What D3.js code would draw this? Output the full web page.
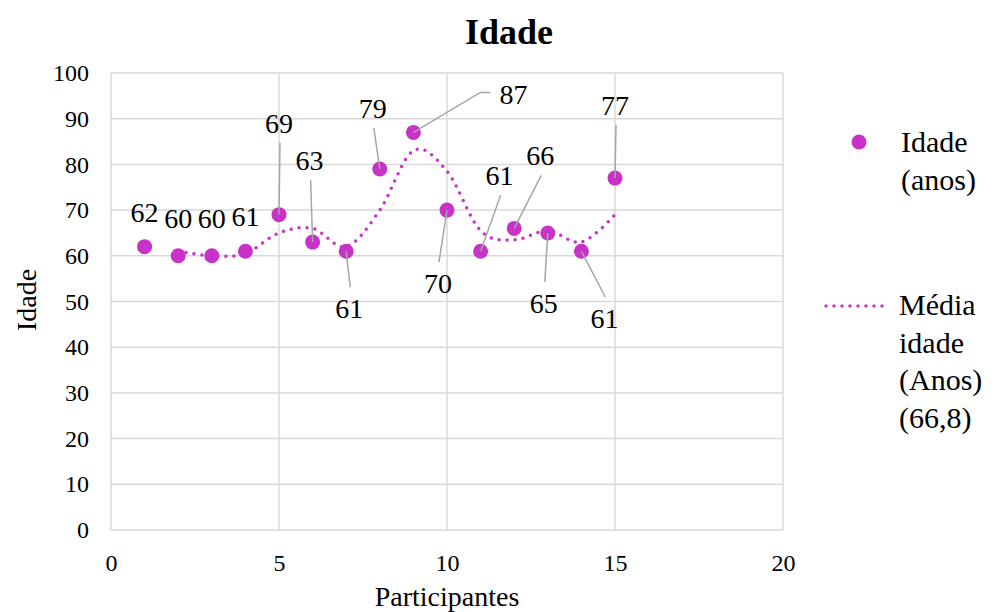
<!DOCTYPE html>
<html><head><meta charset="utf-8">
<script src="https://cdn.jsdelivr.net/npm/d3@7/dist/d3.min.js"></script>
<style>body{margin:0;background:#fff}svg{display:block;font-family:"Liberation Serif","Times New Roman",serif}</style>
</head><body><div id="chart"></div>
<script>
// Data
const participants = [1,2,3,4,5,6,7,8,9,10,11,12,13,14,15];
const ages = [62,60,60,61,69,63,61,79,87,70,61,66,65,61,77];
const trendX = [2,3,4,5,6,7,8,9,10,11,12,13,14,15];
const trendY = [61,60,60.5,65,66,62,70,83,78.5,65.5,63.5,65.5,63,69];
const xTicks = [0,5,10,15,20];
const yTicks = [0,10,20,30,40,50,60,70,80,90,100];
const seriesNames = [["Idade","(anos)"],["Média","idade","(Anos)","(66,8)"]];
// label placement offsets (pixels, relative to point): dx, dy(baseline), leader flag
const labelOffsets = [
  [0,-25,0],[0,-28,0],[0,-28,0],[0,-25,0],[0,-82,1],[-3,-72,1],[3,67,1],[-7,-51,1],
  [100,-28,2],[-9,83,1],[19,-66,1],[26,-63,1],[-4,80,1],[23,77,1],[0,-63,1]
];

const W=994,H=612;
const color="#c832c8";
const svg=d3.select("#chart").append("svg").attr("width",W).attr("height",H);
const x=d3.scaleLinear().domain([0,20]).range([111,783]);
const y=d3.scaleLinear().domain([0,100]).range([530,73]);

// grid
const g=svg.append("g");
g.selectAll(".hg").data(yTicks).join("line")
 .attr("x1",x(0)).attr("x2",x(20)).attr("y1",d=>y(d)).attr("y2",d=>y(d))
 .attr("stroke","#d9d9d9").attr("stroke-width",1.5);
g.selectAll(".vg").data(xTicks).join("line")
 .attr("y1",y(0)).attr("y2",y(100)).attr("x1",d=>x(d)).attr("x2",d=>x(d))
 .attr("stroke","#d9d9d9").attr("stroke-width",1.5);

// axes (labels only)
const xa=svg.append("g").attr("transform",`translate(0,${y(0)})`)
 .call(d3.axisBottom(x).tickValues(xTicks).tickSize(0).tickPadding(24));
xa.attr("font-family",null);
xa.select(".domain").remove();
xa.selectAll("text").attr("font-size",24).style("font-family","'Liberation Serif',serif").attr("fill","#000");
const ya=svg.append("g").attr("transform",`translate(${x(0)},0)`)
 .call(d3.axisLeft(y).tickValues(yTicks).tickSize(0).tickPadding(22));
ya.attr("font-family",null);
ya.select(".domain").remove();
ya.selectAll("text").attr("font-size",24).style("font-family","'Liberation Serif',serif").attr("fill","#000");

// trendline
svg.append("path").datum(trendX.map((d,i)=>[d,trendY[i]]))
 .attr("d",d3.line().x(d=>x(d[0])).y(d=>y(d[1])).curve(d3.curveCatmullRom.alpha(0)))
 .attr("fill","none").attr("stroke",color).attr("stroke-width",3.5)
 .attr("stroke-linecap","round").attr("stroke-dasharray","0,8");

// points
svg.selectAll(".pt").data(participants).join("circle")
 .attr("cx",d=>x(d)).attr("cy",(d,i)=>y(ages[i])).attr("r",7.5).attr("fill",color);

// leader lines
participants.forEach((p,i)=>{
  const [dx,dy,f]=labelOffsets[i];
  const px=x(p),py=y(ages[i]);
  if(f===1){
    const ly = dy<0 ? py+dy+10 : py+dy-31;
    svg.append("line").attr("x1",px).attr("y1",py).attr("x2",px+dx+1).attr("y2",ly)
      .attr("stroke","#a6a6a6").attr("stroke-width",1.5);
  } else if(f===2){
    svg.append("polyline").attr("points",`${px},${py} ${px+dx-33},${py+dy-12} ${px+dx-23},${py+dy-12}`)
      .attr("fill","none").attr("stroke","#a6a6a6").attr("stroke-width",1.5);
  }
});
// labels
svg.selectAll(".lbl").data(participants).join("text")
 .attr("x",(d,i)=>x(d)+labelOffsets[i][0]).attr("y",(d,i)=>y(ages[i])+labelOffsets[i][1])
 .attr("text-anchor","middle").attr("font-size",28).text((d,i)=>ages[i]);

// titles
svg.append("text").attr("x",509).attr("y",44).attr("text-anchor","middle")
 .attr("font-size",36).attr("font-weight","bold").text("Idade");
svg.append("text").attr("x",447).attr("y",606).attr("text-anchor","middle")
 .attr("font-size",28).text("Participantes");
svg.append("text").attr("transform","translate(36,300) rotate(-90)").attr("text-anchor","middle")
 .attr("font-size",28).text("Idade");

// legend
svg.append("circle").attr("cx",859).attr("cy",142).attr("r",7.5).attr("fill",color);
const l1=svg.append("text").attr("x",901).attr("y",152).attr("font-size",30);
seriesNames[0].forEach((t,i)=>l1.append("tspan").attr("x",901).attr("y",152+i*38).text(t));
svg.append("line").attr("x1",826).attr("x2",890).attr("y1",306).attr("y2",306)
 .attr("stroke",color).attr("stroke-width",3.5).attr("stroke-linecap","round").attr("stroke-dasharray","0,8");
const l2=svg.append("text").attr("x",899).attr("y",315).attr("font-size",30);
seriesNames[1].forEach((t,i)=>l2.append("tspan").attr("x",899).attr("y",315+i*37.5).text(t));
</script></body></html>
